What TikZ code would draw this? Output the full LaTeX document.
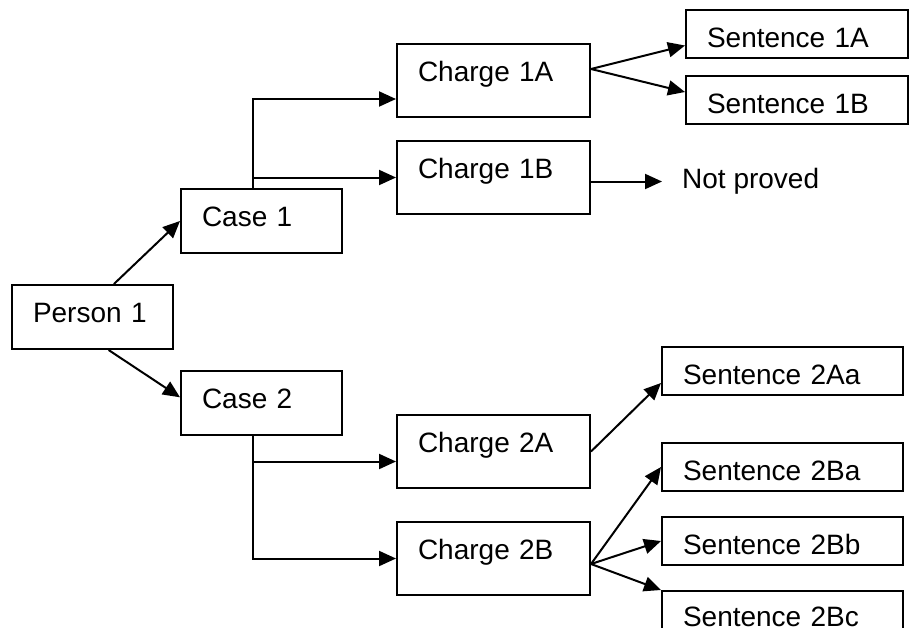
\documentclass[tikz,border=0pt]{standalone}
\usepackage{fontspec}
\setmainfont{Liberation Sans}
\usetikzlibrary{arrows.meta,positioning}
\tikzset{
  >={Triangle[length=17pt,width=15pt]},
  every node/.style={font=\fontsize{28}{34}\selectfont},
  box/.style={draw,line width=2pt,align=left,inner xsep=21pt,inner ysep=0pt,text height=37pt},
  casebox/.style={box,text width=119pt,text depth=27pt},
  chargebox/.style={box,text width=151pt,text depth=36pt},
  sentbox/.style={box,text width=180pt,text depth=11pt},
  sentwbox/.style={sentbox,text width=199pt},
  arrow/.style={->,line width=2pt},
  plain/.style={inner xsep=20pt,inner ysep=0pt},
}
\begin{document}
\begin{tikzpicture}[x=1pt,y=-1pt]
\useasboundingbox (0,0) rectangle (915,627);

% person and cases
\node[casebox,anchor=north west] (person) at (11,284) {Person 1};
\node[casebox,anchor=north west] (case1) at (180,188) {Case 1};
\node[casebox,anchor=north west] (case2) at (180,370) {Case 2};
\draw[arrow] (person.57) -- (case1.west);
\draw[arrow] (person.-64) -- (case2.176);

% charges
\node[chargebox,anchor=north west] (ch1a) at (396,43) {Charge 1A};
\node[chargebox,below=22pt of ch1a] (ch1b) {Charge 1B};
\node[chargebox,anchor=north west] (ch2a) at (396,414) {Charge 2A};
\node[chargebox,below=32pt of ch2a] (ch2b) {Charge 2B};
\coordinate (c1) at ([xshift=-8.5pt]case1.north);
\coordinate (c2) at ([xshift=-8.5pt]case2.south);
\coordinate (a1) at ([yshift=-18.5pt]ch1a.west);
\coordinate (a2) at ([yshift=-10pt]ch2a.west);
\draw[arrow] (c1) |- (a1);
\draw[arrow] (c1 |- ch1b.west) -- (ch1b.west);
\draw[arrow] (c2) |- (ch2b.west);
\draw[arrow] (c2 |- a2) -- (a2);

% sentences
\node[sentbox,anchor=north west] (s1a) at (685,9) {Sentence 1A};
\node[sentbox,below=16pt of s1a] (s1b) {Sentence 1B};
\node[plain,anchor=base west] (np) at (662,188) {Not proved};
\node[sentwbox,anchor=north west] (s2aa) at (661,346) {Sentence 2Aa};
\node[sentwbox,below=46pt of s2aa] (s2ba) {Sentence 2Ba};
\node[sentwbox,below=24pt of s2ba] (s2bb) {Sentence 2Bb};
\node[sentwbox,below=24pt of s2bb,text height=35pt,text depth=13pt] (s2bc) {Sentence 2Bc};

\coordinate (o1) at ([yshift=11.5pt]ch1a.east);
\coordinate (o2) at ([yshift=-4pt]ch1b.east);
\coordinate (o4) at ([yshift=-5.5pt]ch2b.east);
\draw[arrow] (o1) -- ([yshift=-11.5pt]s1a.west);
\draw[arrow] (o1) -- ([yshift=8pt]s1b.west);
\draw[arrow] (o2) -- (o2 -| np.west);
\draw[arrow] (ch2a.east) -- ([yshift=-12pt]s2aa.west);
\foreach \s in {s2ba,s2bb} {\draw[arrow] (o4) -- (\s.west);}
\draw[arrow] (o4) -- (s2bc.north west);

\end{tikzpicture}
\end{document}
